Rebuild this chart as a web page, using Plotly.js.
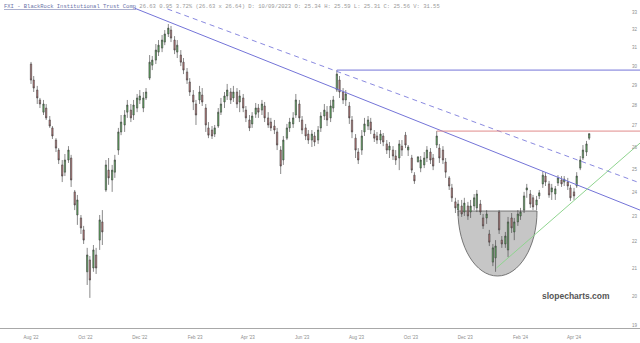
<!DOCTYPE html>
<html><head><meta charset="utf-8">
<script src="https://cdn.plot.ly/plotly-3.0.1.min.js"></script>
<style>html,body{margin:0;padding:0;background:#fff;}#chart{width:640px;height:343px;}</style>
</head><body><div id="chart"></div>
<script>
// ---- candle data (FXI) ----
const dates = [
'2022-08-01','2022-08-04','2022-08-08','2022-08-11','2022-08-15','2022-08-18','2022-08-22','2022-08-25','2022-08-29','2022-09-01',
'2022-09-05','2022-09-08','2022-09-12','2022-09-15','2022-09-19','2022-09-22','2022-09-26','2022-09-29','2022-10-03','2022-10-06',
'2022-10-10','2022-10-13','2022-10-17','2022-10-20','2022-10-24','2022-10-27','2022-10-31','2022-11-03','2022-11-07','2022-11-10',
'2022-11-14','2022-11-17','2022-11-21','2022-11-24','2022-11-28','2022-12-01','2022-12-05','2022-12-08','2022-12-12','2022-12-15',
'2022-12-19','2022-12-22','2022-12-26','2022-12-29','2023-01-02','2023-01-05','2023-01-09','2023-01-12','2023-01-16','2023-01-19',
'2023-01-23','2023-01-26','2023-01-30','2023-02-02','2023-02-06','2023-02-09','2023-02-13','2023-02-16','2023-02-20','2023-02-23',
'2023-02-27','2023-03-02','2023-03-06','2023-03-09','2023-03-13','2023-03-16','2023-03-20','2023-03-23','2023-03-27','2023-03-30',
'2023-04-03','2023-04-06','2023-04-10','2023-04-13','2023-04-17','2023-04-20','2023-04-24','2023-04-27','2023-05-01','2023-05-04',
'2023-05-08','2023-05-11','2023-05-15','2023-05-18','2023-05-22','2023-05-25','2023-05-29','2023-06-01','2023-06-05','2023-06-08',
'2023-06-12','2023-06-15','2023-06-19','2023-06-22','2023-06-26','2023-06-29','2023-07-03','2023-07-06','2023-07-10','2023-07-13',
'2023-07-17','2023-07-20','2023-07-24','2023-07-27','2023-07-31','2023-08-03','2023-08-07','2023-08-10','2023-08-14','2023-08-17',
'2023-08-21','2023-08-24','2023-08-28','2023-08-31','2023-09-04','2023-09-07','2023-09-11','2023-09-14','2023-09-18','2023-09-21',
'2023-09-25','2023-09-28','2023-10-02','2023-10-05','2023-10-09','2023-10-12','2023-10-16','2023-10-19','2023-10-23','2023-10-26',
'2023-10-30','2023-11-02','2023-11-06','2023-11-09','2023-11-13','2023-11-16','2023-11-20','2023-11-23','2023-11-27','2023-11-30',
'2023-12-04','2023-12-07','2023-12-11','2023-12-14','2023-12-18','2023-12-21','2023-12-25','2023-12-28','2024-01-01','2024-01-04',
'2024-01-08','2024-01-11','2024-01-15','2024-01-18','2024-01-22','2024-01-25','2024-01-29','2024-02-01','2024-02-05','2024-02-08',
'2024-02-12','2024-02-15','2024-02-19','2024-02-22','2024-02-26','2024-02-29','2024-03-04','2024-03-07','2024-03-11','2024-03-14',
'2024-03-18','2024-03-21','2024-03-25','2024-03-28','2024-04-01','2024-04-04','2024-04-08','2024-04-11','2024-04-15','2024-04-18'
];
const openP = [
30.11,29.27,28.76,28.26,27.66,27.86,27.28,26.90,26.33,25.87,
25.20,24.88,25.42,25.51,24.03,23.07,22.95,22.47,20.87,21.31,
21.01,21.50,22.07,22.79,24.11,24.97,24.54,24.88,25.87,26.71,
27.04,27.66,27.76,27.52,27.86,28.26,27.86,28.36,29.37,30.05,
30.32,30.75,30.97,31.30,31.75,31.97,31.41,30.75,30.59,30.21,
29.69,29.17,28.51,28.06,28.26,28.51,27.86,26.90,26.80,26.61,
26.99,27.66,28.16,28.46,28.66,28.36,28.66,28.16,28.36,27.76,
27.28,27.09,27.56,27.86,27.76,27.96,27.38,27.18,26.99,26.71,
25.87,25.42,26.42,26.90,27.09,27.52,28.06,27.28,26.90,26.61,
26.33,26.52,26.33,26.90,27.47,27.66,27.38,27.86,28.76,29.27,
28.66,28.26,27.96,27.28,26.42,25.78,25.87,26.71,26.99,27.18,
26.61,26.52,26.33,26.52,26.15,25.87,25.87,25.60,25.51,26.05,
26.56,25.87,25.51,24.75,25.34,25.06,25.20,25.51,25.78,25.51,
26.10,25.96,25.87,25.33,24.63,24.20,23.61,23.27,23.44,23.19,
23.44,23.19,23.44,23.36,23.52,22.95,22.95,22.31,21.23,21.39,
23.19,22.07,21.92,21.69,22.95,22.39,22.79,23.03,23.27,24.11,
23.94,23.78,23.48,23.86,24.37,24.71,24.37,24.03,23.94,24.41,
24.54,24.45,24.45,24.20,24.03,24.28,25.06,25.51,25.78,26.42
];
const highP = [
30.22,29.48,28.97,28.36,28.26,28.06,27.47,26.99,26.42,25.96,
25.42,25.69,26.05,25.65,24.11,23.90,23.07,22.63,21.77,21.46,
21.88,21.77,23.07,23.27,25.42,25.51,25.20,25.65,26.90,27.52,
27.76,28.26,28.06,28.26,28.56,28.76,28.66,28.86,30.59,30.54,
31.19,31.41,31.69,31.97,32.31,32.20,31.63,31.41,30.86,30.43,
29.90,29.37,28.76,28.26,28.97,28.86,28.06,27.18,26.99,27.04,
27.86,28.36,28.66,29.07,28.86,28.97,28.86,28.76,28.56,27.96,
27.52,27.66,28.11,28.06,28.26,28.16,27.66,27.38,27.28,26.90,
26.05,26.52,27.09,27.38,27.66,28.56,28.26,27.47,27.09,26.80,
26.80,26.71,26.99,27.66,28.06,27.96,28.26,28.46,29.79,29.48,
28.86,28.76,28.16,27.47,26.61,25.96,26.80,27.38,27.47,27.38,
26.80,26.71,26.80,26.66,26.33,26.24,26.05,25.87,26.33,26.33,
26.71,26.10,25.65,24.88,25.59,25.60,25.78,26.05,25.96,25.69,
26.75,26.15,26.05,25.51,24.71,24.37,23.78,23.69,23.69,23.78,
23.61,23.69,23.94,24.11,23.69,23.11,23.27,22.47,21.92,22.07,
23.27,22.23,22.39,22.99,23.15,22.95,23.27,23.36,24.03,24.37,
24.11,23.90,23.86,24.11,24.93,24.88,24.50,24.37,24.28,24.75,
24.71,24.71,24.63,24.33,24.20,24.88,25.60,26.10,26.29,26.64
];
const lowP = [
29.07,28.66,28.06,27.86,27.52,27.28,26.90,26.38,25.78,25.24,
24.45,24.71,25.29,24.24,23.27,22.67,22.31,21.92,20.39,19.93,
20.87,20.79,21.69,21.88,24.03,24.33,24.03,24.63,25.65,26.56,
26.71,27.38,27.18,27.28,27.66,28.06,27.66,28.26,29.27,29.79,
30.11,30.54,30.75,31.13,31.58,31.30,30.64,30.43,30.00,29.58,
29.07,28.46,27.76,27.04,28.06,27.96,26.71,26.42,26.38,26.47,
26.90,27.52,27.86,28.26,28.06,28.16,27.86,27.66,27.66,27.18,
26.75,26.90,27.38,27.38,27.52,27.18,26.90,26.75,26.61,25.87,
24.80,25.20,26.33,26.71,26.90,27.38,27.18,26.61,26.33,26.15,
26.01,26.05,26.15,26.71,27.28,26.99,27.18,27.66,28.66,28.36,
28.06,27.96,27.09,26.42,25.51,25.24,25.65,26.52,26.80,26.61,
26.24,26.15,26.15,26.05,25.69,25.51,25.42,25.20,24.97,25.60,
25.96,25.60,24.84,24.37,25.31,24.88,25.06,25.33,25.24,24.97,
25.96,25.29,25.24,24.63,24.11,23.61,23.15,23.03,22.99,23.03,
22.87,22.95,23.27,23.19,23.07,22.51,22.71,21.84,21.08,20.87,
22.31,21.77,21.77,21.42,22.35,22.07,22.63,22.87,23.15,23.78,
23.36,23.27,23.27,23.73,24.20,24.28,23.78,23.69,23.69,24.28,
24.24,24.28,24.11,23.65,23.69,24.20,24.97,25.42,25.60,26.33
];
const closeP = [
29.27,28.86,28.36,28.06,28.06,27.38,26.99,26.52,25.96,25.42,
24.71,25.42,25.87,24.54,23.48,23.69,22.55,22.07,21.50,20.57,
21.69,21.01,22.87,22.39,25.20,24.63,24.97,25.42,26.71,27.18,
27.52,28.01,27.38,28.01,28.36,28.46,28.36,28.66,30.21,30.32,
30.86,31.13,31.41,31.75,32.08,31.52,30.86,31.13,30.21,29.79,
29.27,28.66,28.16,27.52,28.66,28.16,27.04,26.56,26.52,26.90,
27.66,28.06,28.46,28.76,28.26,28.66,28.06,28.46,27.86,27.38,
26.90,27.47,27.86,27.66,28.06,27.38,27.04,26.90,26.80,26.10,
25.15,26.33,26.90,27.18,27.38,28.26,27.38,26.80,26.52,26.33,
26.61,26.24,26.80,27.47,27.76,27.28,27.96,28.26,29.58,28.66,
28.26,28.56,27.38,26.71,25.87,25.42,26.52,27.09,27.28,26.80,
26.42,26.33,26.61,26.24,25.87,26.05,25.60,25.42,26.15,25.87,
26.10,26.01,24.97,24.50,25.56,25.42,25.51,25.87,25.42,25.15,
26.52,25.51,25.42,24.88,24.28,23.78,23.36,23.52,23.11,23.56,
23.03,23.44,23.78,23.94,23.19,22.63,23.11,21.99,21.77,21.84,
22.47,21.92,22.23,22.79,22.55,22.79,23.11,23.19,23.86,24.20,
23.52,23.40,23.69,23.99,24.75,24.45,23.90,24.20,24.16,24.63,
24.37,24.58,24.28,23.78,23.86,24.71,25.42,25.87,26.15,26.63
];

// ---- axes ----
const xTickVals = ['2022-08-01','2022-10-01','2022-12-01','2023-02-01','2023-04-01','2023-06-01','2023-08-01','2023-10-01','2023-12-01','2024-02-01','2024-04-01'];
const xTickText = ["Aug '22","Oct '22","Dec '22","Feb '23","Apr '23","Jun '23","Aug '23","Oct '23","Dec '23","Feb '24","Apr '24"];
const yTickVals = [19,20,21,22,23,24,25,26,27,28,29,30,31,32,33];

// ---- drawn lines (date, price) ----
const trendSolidX = ['2022-11-25','2024-06-14'];
const trendSolidY = [33.23, 23.27];
const trendDashX = ['2023-01-01','2024-06-14'];
const trendDashY = [33.18, 24.41];
const resistBlueX = ['2023-07-10','2024-06-14'];
const resistBlueY = [29.79, 29.79];
const resistRedX = ['2023-10-30','2024-06-14'];
const resistRedY = [26.75, 26.75];
const supportGreenX = ['2024-01-05','2024-06-14'];
const supportGreenY = [21.01, 26.19];

const titleName = 'FXI - BlackRock Institutional Trust Comp';
const titleQuote = '26.63 0.95 3.72% (26.63 x 26.64) D: 10/09/2023 O: 25.34 H: 25.59 L: 25.31 C: 25.56 V: 31.55';

const lineTrace = (x, y, color, dash) => ({
  type: 'scatter', mode: 'lines', x: x, y: y, hoverinfo: 'skip',
  line: {color: color, width: 1, dash: dash || 'solid'}
});

const traces = [
  {
    type: 'candlestick', x: dates, open: openP, high: highP, low: lowP, close: closeP,
    increasing: {line: {color: '#3a3a3a', width: 0.6}, fillcolor: '#63b263'},
    decreasing: {line: {color: '#3a3a3a', width: 0.6}, fillcolor: '#c27d7d'},
    whiskerwidth: 0, hoverinfo: 'skip'
  },
  lineTrace(trendSolidX, trendSolidY, '#7474d8'),
  lineTrace(trendDashX, trendDashY, '#8a8ae0', '5px,4px'),
  lineTrace(resistBlueX, resistBlueY, '#7474d8'),
  lineTrace(resistRedX, resistRedY, '#e08a8a'),
  lineTrace(supportGreenX, supportGreenY, '#8fd48f')
];

const layout = {
  width: 640, height: 343,
  margin: {l: 0, r: 0, t: 0, b: 15},
  paper_bgcolor: '#ffffff', plot_bgcolor: '#ffffff',
  showlegend: false, dragmode: false, boxgap: 0.3,
  xaxis: {
    type: 'date', range: ['2022-06-27 05:00', '2024-06-14'],
    tickvals: xTickVals, ticktext: xTickText,
    showgrid: false, zeroline: false, showline: true, linecolor: '#a8a8a8', linewidth: 1,
    ticks: '', ticklabelstandoff: 5,
    tickfont: {family: 'Liberation Sans, Arial, sans-serif', size: 4.5, color: '#8c8c8c'},
    rangeslider: {visible: false}, fixedrange: true
  },
  yaxis: {
    type: 'log', side: 'right', range: [Math.log10(18.90), Math.log10(33.71)],
    tickvals: yTickVals, ticklabelposition: 'inside',
    showgrid: false, zeroline: false, showline: false, ticks: '',
    tickfont: {family: 'Liberation Sans, Arial, sans-serif', size: 4.5, color: '#8c8c8c'},
    fixedrange: true
  },
  shapes: [{
    type: 'path', xref: 'paper', yref: 'paper', layer: 'below',
    path: 'M 0.7156 0.3567 C 0.7156 0.2473 0.7433 0.1585 0.7773 0.1585 C 0.8114 0.1585 0.8391 0.2473 0.8391 0.3567 Z',
    fillcolor: '#c6c6c6', line: {color: '#5a5a5a', width: 0.8}
  }],
  annotations: [
    {
      xref: 'paper', yref: 'paper', x: 0, y: 1, xanchor: 'left', yanchor: 'top', xshift: 2, yshift: -1,
      showarrow: false, align: 'left',
      text: '<span style="text-decoration:underline;fill:#6a72a8">' + titleName + '</span> ' + titleQuote,
      font: {family: 'Liberation Mono, DejaVu Sans Mono, monospace', size: 5.5, color: '#9a9a9a'}
    },
    {
      xref: 'paper', yref: 'paper', x: 0.9, y: 0.0976, xanchor: 'center', yanchor: 'middle',
      showarrow: false, text: '<b>slopecharts.com</b>',
      font: {family: 'Liberation Sans, Arial, sans-serif', size: 8.5, color: '#555555'}
    }
  ]
};

Plotly.newPlot('chart', traces, layout, {staticPlot: true, displayModeBar: false});
</script>
</body></html>
